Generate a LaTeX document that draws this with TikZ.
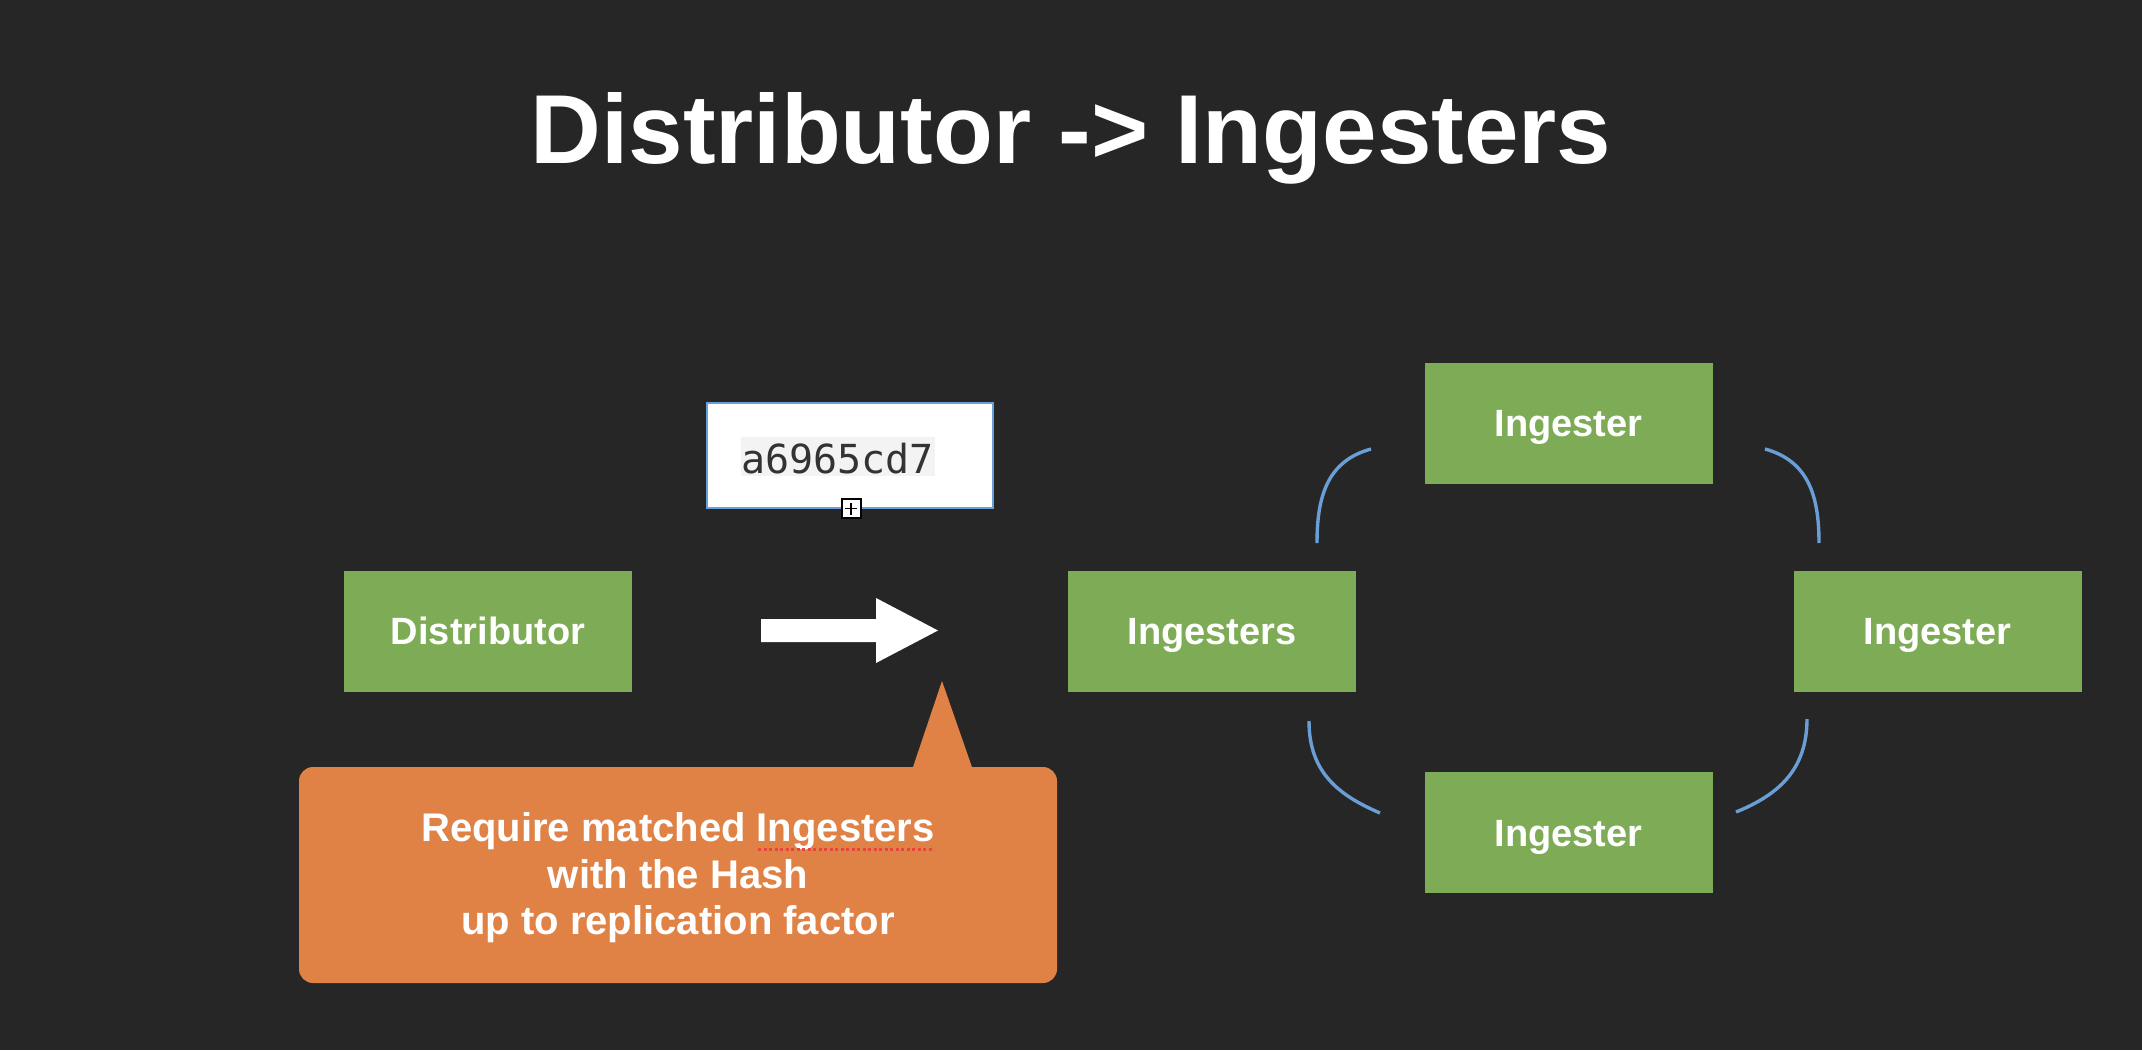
\documentclass[tikz,border=0pt]{standalone}
\usepackage{fontspec}
\setmainfont{Liberation Sans}
\newfontfamily\hashfont{DejaVu Sans Mono}
\definecolor{bgc}{RGB}{38,38,38}
\definecolor{boxgreen}{RGB}{126,171,85}
\definecolor{callorange}{RGB}{224,130,70}
\definecolor{ringblue}{RGB}{106,158,214}
\definecolor{hashgray}{RGB}{51,51,51}
\definecolor{hashbg}{RGB}{243,243,243}
\definecolor{squigred}{RGB}{230,70,60}
\begin{document}
\begin{tikzpicture}[x=1pt,y=-1pt,
  gbox/.style={rectangle, fill=boxgreen, minimum width=288pt, minimum height=121pt,
    text=white, inner sep=0pt, text height=27.5pt, text depth=0pt, font=\fontsize{38}{45}\selectfont\bfseries},
  ring/.style={draw=ringblue, line width=3.4pt},
]
\useasboundingbox (0,0) rectangle (2142,1050);
\fill[bgc] (0,0) rectangle (2142,1050);

% title
\node[text=white, font=\fontsize{98}{110}\selectfont\bfseries, anchor=base] (title) at (1071,163) {Distributor -> Ingesters};

% boxes
\node[gbox] (dist) at (488,631) {Distributor};
\node[gbox] (ings) at (1212,631) {Ingesters};
\node[gbox] (itop) at (1568.5,423) {Ingester};
\node[gbox] (iright) at (1937.5,631) {Ingester};
\node[gbox] (ibot) at (1568.5,832.5) {Ingester};

% ring arcs
\coordinate (a1) at (1371,449); \coordinate (a2) at (1317,543);
\coordinate (b1) at (1765,449); \coordinate (b2) at (1819,543);
\coordinate (c1) at (1309,721); \coordinate (c2) at (1380,813);
\coordinate (d1) at (1807,719); \coordinate (d2) at (1736,812);
\draw[ring] (a1) .. controls (1327,461) and (1317,497) .. (a2);
\draw[ring] (b1) .. controls (1809,461) and (1819,497) .. (b2);
\draw[ring] (c1) .. controls (1309,772) and (1338,795) .. (c2);
\draw[ring] (d1) .. controls (1807,770) and (1778,795) .. (d2);

% block arrow
\fill[white] (761,619) -- (876,619) -- (876,598) -- (938,630.5) -- (876,663) -- (876,642) -- (761,642) -- cycle;

% hash box
\node[rectangle, draw=ringblue, line width=2pt, fill=white, minimum width=286pt, minimum height=105pt, inner sep=0pt] (hash) at (850.3,455.3) {};
\fill[hashbg] (741,437) rectangle (935,476);
\node[anchor=base west, inner sep=0pt, text=hashgray, font=\hashfont\fontsize{40}{48}\selectfont] (hashtxt) at (741,473) {a6965cd7};
\node[rectangle, draw=black, fill=white, line width=2pt, minimum width=19pt, minimum height=19pt, inner sep=0pt] (plus) at (851,508.5) {};
\draw[black, line width=1.5pt] ([xshift=-6pt]plus.center) -- ([xshift=6pt]plus.center);
\draw[black, line width=1.5pt] ([yshift=-6pt]plus.center) -- ([yshift=6pt]plus.center);

% callout
\fill[callorange] (912,770) -- (942,681) -- (973,770) -- cycle;
\node[rectangle, rounded corners=14pt, fill=callorange, minimum width=758pt, minimum height=216pt,
  inner sep=0pt] (callout) at (678,875) {};
\node[inner sep=0pt, text=white, align=center, font=\fontsize{40}{46.5}\selectfont\bfseries] (calltxt) at (678,878)
  {Require matched Ingesters\\with the Hash\\up to replication factor};
\draw[squigred, line width=3pt, dash pattern=on 3pt off 2.5pt] (758,849) -- (934,849);
\end{tikzpicture}
\end{document}
